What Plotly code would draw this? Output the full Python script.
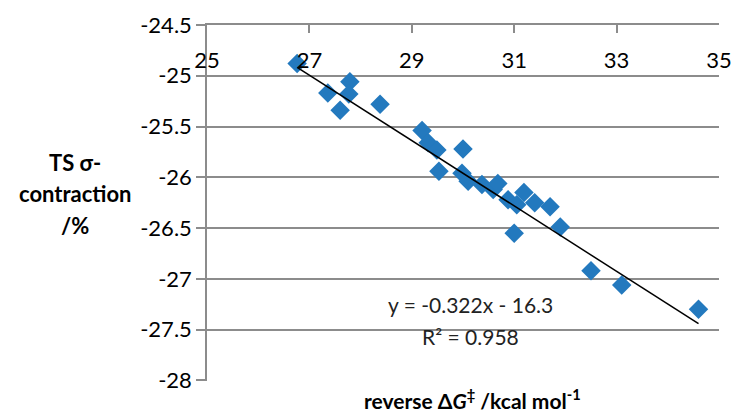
import plotly.graph_objects as go

# reverse barrier (kcal/mol) vs TS sigma-contraction (%)
dG_rev = [26.76, 27.36, 27.60, 27.79, 27.77, 28.38, 29.20, 29.32, 29.49, 29.53,
          30.00, 29.98, 30.10, 30.37, 30.59, 30.68, 30.88, 31.05, 31.19, 31.40,
          31.70, 31.90, 31.00, 32.50, 33.10, 34.60]
sigma = [-24.88, -25.17, -25.34, -25.06, -25.18, -25.28, -25.54, -25.66, -25.73, -25.94,
         -25.72, -25.96, -26.04, -26.07, -26.12, -26.06, -26.22, -26.27, -26.15, -26.25,
         -26.29, -26.49, -26.55, -26.92, -27.06, -27.30]

slope, intercept, r2 = -0.322, -16.3, 0.958
x_ticks = [25, 27, 29, 31, 33, 35]
y_ticks = [-28, -27.5, -27, -26.5, -26, -25.5, -25, -24.5]
y_title_lines = ["TS σ-", "contraction", "/%"]

FONT = "Lato"
BLUE = "#2379BE"
GRID = "#8c8c8c"
W, H = 734, 414
ML, MR, MT, MB = 207, 15, 25, 33
PW, PH = W - ML - MR, H - MT - MB

x_fit = [min(dG_rev), max(dG_rev)]
y_fit = [slope * x + intercept for x in x_fit]

fig = go.Figure()
fig.add_trace(go.Scatter(
    x=dG_rev, y=sigma, mode="markers",
    marker=dict(symbol="diamond", size=15, color=BLUE, line=dict(width=0)),
    showlegend=False,
))
fig.add_trace(go.Scatter(
    x=x_fit, y=y_fit, mode="lines",
    line=dict(color="black", width=1.5), showlegend=False,
))
# second x axis carries only the tick labels, placed just under the top axis line
fig.add_trace(go.Scatter(
    x=x_fit, y=y_fit, xaxis="x2", mode="lines",
    line=dict(width=0), hoverinfo="skip", showlegend=False,
))

# trendline equation and R², one annotation per line
for txt, yy in [(f"y = {slope}x - {abs(intercept)}", -27.25), (f"R² = {r2}", -27.565)]:
    fig.add_annotation(
        x=30.15, y=yy, xref="x", yref="y", text=txt,
        showarrow=False, xanchor="center", yanchor="middle",
        font=dict(family=FONT, size=21, color="#222"),
    )

def px_to_paper(px, py):
    return (px - ML) / PW, (H - MB - py) / PH

for line, py in zip(y_title_lines, [162, 193, 225]):
    ax, ay = px_to_paper(75, py)
    fig.add_annotation(
        x=ax, y=ay, xref="paper", yref="paper", showarrow=False,
        xanchor="center", yanchor="middle",
        text=f"<b>{line}</b>", font=dict(family=FONT, size=22),
    )

ax, ay = px_to_paper(472, 399)
fig.add_annotation(
    x=ax, y=ay, xref="paper", yref="paper", showarrow=False,
    xanchor="center", yanchor="middle",
    text="<b>reverse Δ<i>G</i><sup>‡</sup> /kcal mol<sup>-1</sup></b>",
    font=dict(family=FONT, size=21),
)

fig.update_layout(
    width=W, height=H,
    margin=dict(l=ML, r=MR, t=MT, b=MB),
    paper_bgcolor="white", plot_bgcolor="white",
    font=dict(family=FONT, size=22, color="black"),
    xaxis=dict(
        range=[25, 35], tickvals=x_ticks, side="top",
        ticks="inside", ticklen=8, tickcolor=GRID, tickwidth=1.5,
        showticklabels=False, automargin=False,
        showline=True, linecolor=GRID, linewidth=1.5,
        showgrid=False, zeroline=False,
    ),
    xaxis2=dict(
        range=[25, 35], tickvals=x_ticks, side="top", overlaying="x",
        anchor="free", position=px_to_paper(0, 72)[1], automargin=False,
        ticks="", showline=False, showgrid=False, zeroline=False,
        tickfont=dict(family=FONT, size=22),
    ),
    yaxis=dict(
        range=[-28.006, -24.5], tickvals=y_ticks,
        ticktext=[f"{v:g}" for v in y_ticks], automargin=False,
        ticks="outside", ticklen=9, tickcolor=GRID, tickwidth=1.5,
        showline=True, linecolor=GRID, linewidth=1.5,
        showgrid=True, gridcolor=GRID, gridwidth=1.5, zeroline=False,
        tickfont=dict(family=FONT, size=22),
    ),
)

fig.write_html("out.html")
